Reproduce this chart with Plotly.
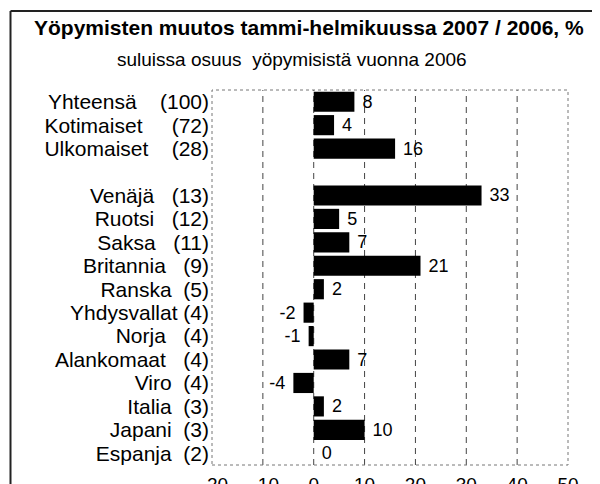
import plotly.graph_objects as go

labels = [
    "Yhteensä    (100)",
    "Kotimaiset     (72)",
    "Ulkomaiset    (28)",
    "",
    "Venäjä   (13)",
    "Ruotsi   (12)",
    "Saksa   (11)",
    "Britannia   (9)",
    "Ranska  (5)",
    "Yhdysvallat (4)",
    "Norja   (4)",
    "Alankomaat   (4)",
    "Viro  (4)",
    "Italia  (3)",
    "Japani  (3)",
    "Espanja  (2)",
]
values = [8, 4, 16, None, 33, 5, 7, 21, 2, -2, -1, 7, -4, 2, 10, 0]
x_ticks = [-20, -10, 0, 10, 20, 30, 40, 50]
grid_vals = [-10, 0, 10, 20, 30, 40]

title = "Yöpymisten muutos tammi-helmikuussa 2007 / 2006, %"
subtitle = "suluissa osuus  yöpymisistä vuonna 2006"

NB = "\u00a0"
cats = [s.replace(" ", NB) if s else NB for s in labels]
texts = ["" if v is None else (f"{NB}{v}" if v >= 0 else f"{v}{NB}") for v in values]

FONT = "Arial, Liberation Sans, sans-serif"

# page body has an 8px margin, so figure coords = window coords - 8
OFF = 8
W, H = 600, 484
L, R, T, B = 212 - OFF, W - (568 - OFF), 90 - OFF, H - (465 - OFF)
PW, PH = W - L - R, H - T - B


def px(xwin):
    return (xwin - OFF - L) / PW


def py(ywin):
    return 1 - (ywin - OFF - T) / PH


fig = go.Figure(go.Bar(
    x=values, y=cats, orientation="h",
    marker=dict(color="black", line=dict(width=0)),
    text=texts, textposition="outside", cliponaxis=False, constraintext="none",
    textfont=dict(size=18, color="black", family=FONT),
))

shapes = []
for g in grid_vals:
    shapes.append(dict(type="line", xref="x", yref="paper", x0=g, x1=g, y0=0, y1=1,
                       line=dict(color="#444", width=1, dash="6px,5px"), layer="below"))
shapes.append(dict(type="rect", xref="paper", yref="paper", x0=0, x1=1, y0=0, y1=1,
                   line=dict(color="#777", width=1, dash="dot"), layer="above"))
# outer frame (left and top edges)
shapes.append(dict(type="line", xref="paper", yref="paper", x0=px(10.5), x1=px(10.5), y0=py(11), y1=py(500),
                   line=dict(color="#222", width=2)))
shapes.append(dict(type="line", xref="paper", yref="paper", x0=px(10.5), x1=px(620), y0=py(11), y1=py(11),
                   line=dict(color="#222", width=2)))

fig.update_layout(
    width=W, height=H,
    margin=dict(l=L, r=R, t=T, b=B),
    paper_bgcolor="white", plot_bgcolor="white",
    font=dict(family=FONT, color="black"),
    showlegend=False,
    bargap=0.14,
    annotations=[
        dict(text=f"<b>{title}</b>", xref="paper", yref="paper", x=px(309), y=py(27),
             xanchor="center", yanchor="middle", showarrow=False,
             font=dict(size=21, family=FONT, color="black")),
        dict(text=subtitle, xref="paper", yref="paper", x=px(292), y=py(60),
             xanchor="center", yanchor="middle", showarrow=False,
             font=dict(size=19, family=FONT, color="black")),
    ],
    shapes=shapes,
    xaxis=dict(range=[-20, 50], tickvals=x_ticks, showgrid=False, zeroline=False, showline=False,
               ticks="", ticklabelstandoff=6, automargin=False,
               tickfont=dict(size=19, family=FONT, color="black"), fixedrange=True),
    yaxis=dict(autorange="reversed", tickmode="array", tickvals=cats, ticktext=cats,
               categoryorder="array", categoryarray=cats, showgrid=False,
               zeroline=False, showline=False, ticks="", ticklabelstandoff=2, automargin=False,
               tickfont=dict(size=21, family=FONT, color="black")),
)

fig.write_html("out.html")
